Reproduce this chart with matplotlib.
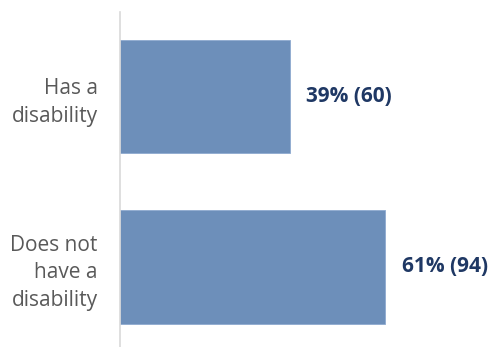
import matplotlib
matplotlib.use("Agg")
import matplotlib.pyplot as plt

categories = ["Has a\ndisability", "Does not\nhave a\ndisability"]
percents = [39, 61]
counts = [60, 94]

bar_color = "#6d8fba"
label_color = "#1f3864"
text_color = "#595959"

plt.rcParams['font.family'] = ['Open Sans', 'DejaVu Sans']

fig = plt.figure(figsize=(4.92, 3.47), dpi=100)
ax = fig.add_axes([120 / 492, 0, 372 / 492, 335 / 347])

y = list(range(len(categories)))
ax.barh(y, percents, height=0.665, color=bar_color, edgecolor="#8eaad0", linewidth=0.6)

for yi, p, c in zip(y, percents, counts):
    ax.annotate(f"{p}% ({c})", xy=(p, yi), xytext=(12, 0), textcoords="offset points",
                ha="left", va="center", fontsize=15, fontweight="bold", color=label_color)

ax.set_yticks(y)
ax.set_yticklabels(categories, fontsize=15, color=text_color, linespacing=1.4)
ax.tick_params(axis="y", length=0, pad=16)
ax.tick_params(axis="x", bottom=False, labelbottom=False)
for lbl in ax.get_yticklabels():
    lbl.set_horizontalalignment("right")
    lbl.set_multialignment("right")

ax.set_xlim(0, 85.5)
ax.set_ylim(1.47, -0.497)

for s in ["top", "right", "bottom"]:
    ax.spines[s].set_visible(False)
ax.spines["left"].set_color("#d9d9d9")
ax.spines["left"].set_linewidth(1.2)

fig.savefig("out.png", dpi=100)
